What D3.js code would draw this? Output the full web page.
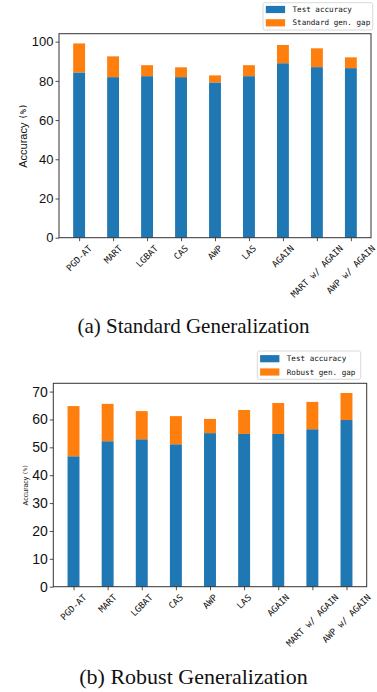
<!DOCTYPE html>
<html>
<head>
  <script src="https://d3js.org/d3.v7.min.js"></script>
  <style>
    body { margin: 0; background: #fff; }
    svg { display: block; }
  </style>
</head>
<body>
  <svg width="377" height="692"></svg>

  <script>
    // Methods on the x axis
    const methods = ["PGD-AT", "MART", "LGBAT", "CAS", "AWP", "LAS", "AGAIN", "MART w/ AGAIN", "AWP w/ AGAIN"];

    // (a) standard generalization
    const stdTest = [84.3, 81.9, 82.4, 81.9, 79.2, 82.4, 89.0, 87.0, 86.5];
    const stdGap = [14.8, 10.6, 5.6, 5.0, 3.6, 5.6, 9.3, 9.6, 5.5];
    const stdTicks = [0, 20, 40, 60, 80, 100];

    // (b) robust generalization
    const robTest = [46.8, 52.2, 52.9, 51.1, 55.1, 54.8, 54.8, 56.5, 59.8];
    const robGap = [18.0, 13.4, 10.1, 10.1, 5.1, 8.6, 11.1, 9.8, 9.7];
    const robTicks = [0, 10, 20, 30, 40, 50, 60, 70];

    const blue = "#1f77b4", orange = "#ff7f0e";
    const svg = d3.select("svg");

    function drawChart(opt) {
      const { left, right, top, bottom } = opt.frame;
      const g = svg.append("g");

      const totals = opt.test.map((d, i) => d + opt.gap[i]);
      const x = d3.scaleLinear()
        .domain([-0.5925, methods.length - 1 + 0.5925])
        .range([left, right]);
      const y = d3.scaleLinear()
        .domain([0, d3.max(totals) * 1.05])
        .range([bottom, top]);
      const bw = x(0.35) - x(0);

      // stacked bars
      g.selectAll(".test").data(opt.test).join("rect")
        .attr("x", (d, i) => x(i) - bw / 2)
        .attr("y", d => y(d))
        .attr("width", bw)
        .attr("height", d => y(0) - y(d))
        .attr("fill", blue);
      g.selectAll(".gap").data(opt.gap).join("rect")
        .attr("x", (d, i) => x(i) - bw / 2)
        .attr("y", (d, i) => y(opt.test[i] + d))
        .attr("width", bw)
        .attr("height", d => y(0) - y(d))
        .attr("fill", orange);

      // y axis
      const ya = g.append("g")
        .attr("transform", `translate(${left},0)`)
        .call(d3.axisLeft(y).tickValues(opt.ticks).tickSize(3.5).tickSizeOuter(0).tickPadding(2));
      ya.select(".domain").remove();
      ya.selectAll("text")
        .attr("font-family", "Liberation Sans, Arial, sans-serif")
        .attr("font-size", opt.tickFont)
        .attr("fill", "#111");
      ya.selectAll("line").attr("stroke", "#222").attr("stroke-width", 0.8);

      // x axis ticks
      const xa = g.append("g")
        .attr("transform", `translate(0,${bottom})`)
        .call(d3.axisBottom(x).tickValues(d3.range(methods.length)).tickSize(3.5).tickSizeOuter(0).tickFormat(""));
      xa.select(".domain").remove();
      xa.selectAll("line").attr("stroke", "#222").attr("stroke-width", 0.8);

      // rotated x labels, bbox centred under the tick
      methods.forEach((m, i) => {
        const t = g.append("text")
          .text(m)
          .attr("font-family", "DejaVu Sans Mono, monospace")
          .attr("font-size", 8.9)
          .attr("fill", "#111")
          .attr("text-anchor", "middle")
          .attr("dominant-baseline", "central");
        const w = t.node().getComputedTextLength();
        const h = 8.9;
        const half = (w + h) / (2 * Math.SQRT2);
        t.attr("transform", `translate(${x(i)},${bottom + 6 + half}) rotate(-45)`);
      });

      // frame
      g.append("rect")
        .attr("x", left).attr("y", top)
        .attr("width", right - left).attr("height", bottom - top)
        .attr("fill", "none").attr("stroke", "#333").attr("stroke-width", 1);

      // y label
      const yl = g.append("text")
        .attr("transform", `translate(${opt.ylab.x},${(top + bottom) / 2}) rotate(-90)`)
        .attr("text-anchor", "middle")
        .attr("dominant-baseline", "central")
        .attr("font-size", opt.ylab.size)
        .attr("fill", "#111");
      yl.append("tspan").attr("font-family", "Liberation Sans, Arial, sans-serif").text("Accuracy ");
      yl.append("tspan").attr("font-family", "DejaVu Sans Mono, monospace").attr("font-size", opt.ylab.size * 0.8).text(" (%)");

      // legend
      const L = opt.legend;
      const lg = g.append("g");
      lg.append("rect")
        .attr("x", L.x).attr("y", L.y).attr("width", L.w).attr("height", L.h)
        .attr("rx", 2).attr("fill", "#fff").attr("stroke", "#d0d0d0").attr("stroke-width", 0.8);
      [[blue, "Test accuracy"], [orange, opt.gapLabel]].forEach((e, k) => {
        const cy = L.y + L.row0 + k * L.step;
        lg.append("rect")
          .attr("x", L.x + 2.8).attr("y", cy - 3.6)
          .attr("width", 19.3).attr("height", 7.2)
          .attr("fill", e[0]);
        lg.append("text")
          .attr("x", L.x + 29.5).attr("y", cy)
          .attr("dominant-baseline", "central")
          .attr("font-family", "DejaVu Sans Mono, monospace")
          .attr("font-size", 7.6)
          .attr("fill", "#111")
          .text(e[1]);
      });

      // caption
      svg.append("text")
        .attr("x", 193.5).attr("y", opt.capY)
        .attr("text-anchor", "middle")
        .attr("font-family", "Liberation Serif, Times New Roman, serif")
        .attr("font-size", opt.capSize)
        .attr("fill", "#111")
        .text(opt.caption);
    }

    drawChart({
      test: stdTest, gap: stdGap, ticks: stdTicks,
      frame: { left: 59, right: 371, top: 33.7, bottom: 237.7 },
      tickFont: 13,
      ylab: { x: 23, size: 11 },
      legend: { x: 263, y: 2.7, w: 109.7, h: 27.3, row0: 6.8, step: 13.3 },
      gapLabel: "Standard gen. gap",
      caption: "(a) Standard Generalization",
      capY: 333, capSize: 21
    });

    drawChart({
      test: robTest, gap: robGap, ticks: robTicks,
      frame: { left: 53.3, right: 366.7, top: 383.3, bottom: 586.7 },
      tickFont: 14,
      ylab: { x: 25, size: 7 },
      legend: { x: 257.3, y: 351, w: 103.4, h: 28.3, row0: 7.7, step: 13.3 },
      gapLabel: "Robust gen. gap",
      caption: "(b) Robust Generalization",
      capY: 684, capSize: 22
    });
  </script>
</body>
</html>
